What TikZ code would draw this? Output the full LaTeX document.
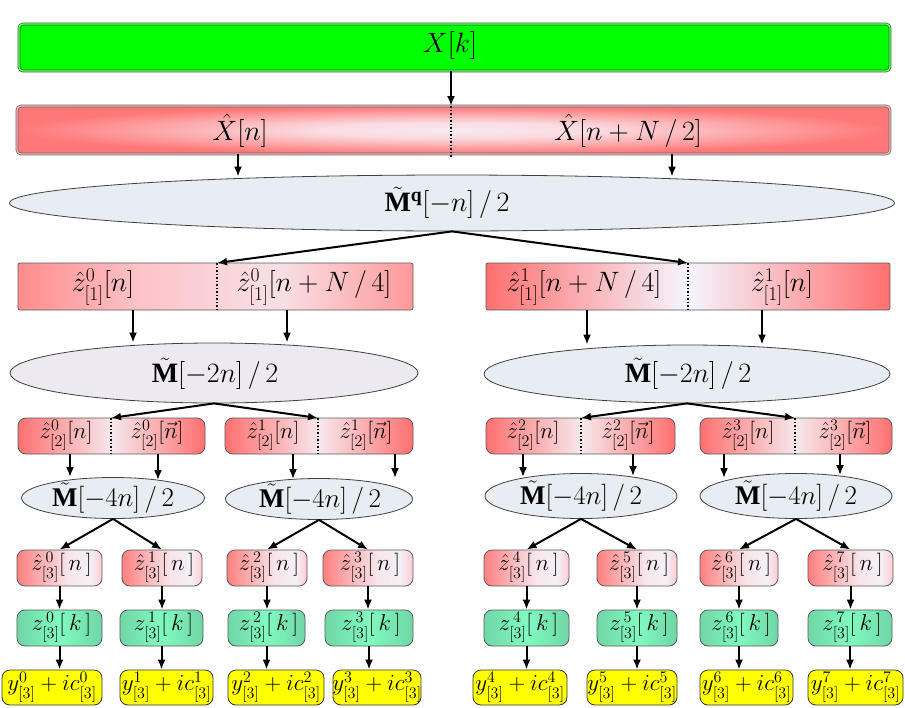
\RequirePackage{fix-cm}
\documentclass[tikz,border=0pt]{standalone}
\usepackage{fontspec}
\setmainfont{Liberation Serif}
\usepackage{amsmath}
\usetikzlibrary{shapes.geometric,arrows.meta,calc}
\definecolor{gbox}{RGB}{0,255,0}
\definecolor{gedge}{RGB}{30,110,30}
\definecolor{redE}{RGB}{255,112,112}
\definecolor{redL}{RGB}{255,150,150}
\definecolor{pinkW}{RGB}{246,232,236}
\definecolor{ellfill}{RGB}{231,237,243}
\definecolor{ellfillP}{RGB}{236,233,240}
\definecolor{mint}{RGB}{128,250,192}
\definecolor{mintE}{RGB}{112,214,166}
\definecolor{yel}{RGB}{255,255,0}
\pgfdeclareradialshading{softred}{\pgfpoint{0bp}{0bp}}{rgb(0bp)=(0.97,0.92,0.94); rgb(8bp)=(0.98,0.86,0.88); rgb(25bp)=(1,0.47,0.47); rgb(50bp)=(1,0.45,0.45)}
\pgfdeclarehorizontalshading{zleft}{100bp}{rgb(0bp)=(1,0.55,0.55); rgb(25bp)=(1,0.55,0.55); rgb(40bp)=(0.99,0.76,0.78); rgb(58bp)=(0.97,0.88,0.9); rgb(75bp)=(1,0.6,0.6); rgb(100bp)=(1,0.6,0.6)}
\pgfdeclarehorizontalshading{lthree}{100bp}{rgb(0bp)=(1,0.5,0.5); rgb(25bp)=(1,0.5,0.5); rgb(55bp)=(0.97,0.9,0.92); rgb(68bp)=(0.96,0.94,0.97); rgb(75bp)=(0.99,0.8,0.82); rgb(100bp)=(0.99,0.8,0.82)}
\begin{document}
\begin{tikzpicture}[x=1pt,y=-1pt,
  arr/.style={-{Latex[length=10pt,width=8pt]}, line width=2pt},
  divline/.style={dotted, line width=1.5pt},
  tbig/.style={font=\fontsize{28}{30}\selectfont, inner sep=0pt},
  tmid/.style={font=\fontsize{27}{29}\selectfont, inner sep=0pt},
  tsmall/.style={font=\fontsize{23}{25}\selectfont, inner sep=0pt},
  tsm/.style={font=\fontsize{23}{25}\selectfont, inner sep=0pt},
  plainbox/.style={rectangle, inner sep=0pt, draw=black!65, line width=0.8pt},
  ellbox/.style={ellipse, inner sep=0pt, draw=black!75, line width=0.8pt, fill=ellfill},
  ltwo/.style={plainbox, rounded corners=8pt, minimum height=36pt, left color=redE, right color=redE, middle color=pinkW},
  lthr/.style={plainbox, rounded corners=8pt, minimum height=36pt, shading=lthree},
  gbx/.style={plainbox, rounded corners=8pt, minimum height=36pt, left color=mintE, right color=mintE, middle color=mint},
  ybx/.style={plainbox, draw=black!80, rounded corners=8pt, minimum height=35pt, fill=yel},
]
\useasboundingbox (0,0) rectangle (905,707);

% ---------- level 0 ----------
\node[rectangle, rounded corners=4pt, minimum width=871pt, minimum height=47pt, inner sep=0pt,
      fill=gbox, draw=gedge, line width=0.7pt, double=gbox!55!white, double distance=1.3pt] (G) at (454.5,47.5) {};
\node[tbig] (g0) at (450,45) {$X[k]$};

% ---------- level 1 ----------
\node[rectangle, rounded corners=4pt, minimum width=873pt, minimum height=48pt, inner sep=0pt,
      shading=softred, draw=black!60, line width=0.7pt, double=redL!70!white, double distance=1.3pt] (XH) at (453.5,130) {};
\coordinate (d0t) at (451,106);
\coordinate (d0b) at (451,157);
\draw[divline] (d0t) -- (d0b);
\node[tbig] (xh1) at (240,131) {$\hat{X}[n]$};
\node[tbig] (xh2) at (628,131) {$\hat{X}[n+N\,/\,2]$};

\node[ellbox, minimum width=885pt, minimum height=56pt] (M1) at (452,203) {};
\node[tbig] (m1t) at (447,203) {$\tilde{\mathbf{M}}^{\mathbf{q}}[-n]\,/\,2$};

% ---------- level z1 ----------
\node[plainbox, rounded corners=2pt, minimum width=395pt, minimum height=47pt, shading=zleft] (Z1L) at (215.5,286.5) {};
\node[plainbox, rounded corners=2pt, minimum width=404pt, minimum height=47pt, left color=redE, right color=redE, middle color=white!96!blue] (Z1R) at (688,286.5) {};
\coordinate (d1t) at (217,263);
\coordinate (d1b) at (217,310);
\coordinate (d2t) at (688,263);
\coordinate (d2b) at (688,310);
\draw[divline] (d1t) -- (d1b);
\draw[divline] (d2t) -- (d2b);
\node[tbig] (z1a) at (103,287) {$\hat{z}^{0}_{[1]}[n]$};
\node[tbig] (z1b) at (314,287) {$\hat{z}^{0}_{[1]}[n+N\,/\,4]$};
\node[tbig] (z1c) at (584,287) {$\hat{z}^{1}_{[1]}[n+N\,/\,4]$};
\node[tbig] (z1d) at (782,287) {$\hat{z}^{1}_{[1]}[n]$};

\node[ellbox, fill=ellfillP, minimum width=408pt, minimum height=60pt] (M2L) at (214,373) {};
\node[ellbox, minimum width=406pt, minimum height=58pt] (M2R) at (687,374) {};
\node[tbig] (m2a) at (215,374) {$\tilde{\mathbf{M}}[-2n]\,/\,2$};
\node[tbig] (m2b) at (688,374) {$\tilde{\mathbf{M}}[-2n]\,/\,2$};

% ---------- level 2 ----------
\node[ltwo, minimum width=187pt] (L2a) at (111.5,436) {};
\node[ltwo, minimum width=188pt] (L2b) at (319,436) {};
\node[ltwo, minimum width=189pt] (L2c) at (580.5,436) {};
\node[ltwo, minimum width=192pt] (L2d) at (796,436) {};
\coordinate (d3t) at (111,418); \coordinate (d3b) at (111,454);
\coordinate (d4t) at (318,418); \coordinate (d4b) at (318,454);
\coordinate (d5t) at (581,418); \coordinate (d5b) at (581,454);
\coordinate (d6t) at (795,418); \coordinate (d6b) at (795,454);
\draw[divline] (d3t) -- (d3b);
\draw[divline] (d4t) -- (d4b);
\draw[divline] (d5t) -- (d5b);
\draw[divline] (d6t) -- (d6b);
\node[tsmall] (l2a1) at (66,435) {$\hat{z}^{0}_{[2]}[n]$};
\node[tsmall] (l2a2) at (157,435) {$\hat{z}^{0}_{[2]}[\vec{n}]$};
\node[tsmall] (l2b1) at (273,435) {$\hat{z}^{1}_{[2]}[n]$};
\node[tsmall] (l2b2) at (366,435) {$\hat{z}^{1}_{[2]}[\vec{n}]$};
\node[tsmall] (l2c1) at (533,435) {$\hat{z}^{2}_{[2]}[n]$};
\node[tsmall] (l2c2) at (628,435) {$\hat{z}^{2}_{[2]}[\vec{n}]$};
\node[tsmall] (l2d1) at (748,435) {$\hat{z}^{3}_{[2]}[n]$};
\node[tsmall] (l2d2) at (845,435) {$\hat{z}^{3}_{[2]}[\vec{n}]$};

\node[ellbox, minimum width=183pt, minimum height=41pt] (M3a) at (113,498) {};
\node[ellbox, minimum width=187pt, minimum height=41pt] (M3b) at (319,499) {};
\node[ellbox, minimum width=192pt, minimum height=45pt] (M3c) at (581,496) {};
\node[ellbox, minimum width=192pt, minimum height=45pt] (M3d) at (796,496) {};
\node[tmid] (m3a) at (113,498) {$\tilde{\mathbf{M}}[-4n]\,/\,2$};
\node[tmid] (m3b) at (320,499) {$\tilde{\mathbf{M}}[-4n]\,/\,2$};
\node[tmid] (m3c) at (581,496) {$\tilde{\mathbf{M}}[-4n]\,/\,2$};
\node[tmid] (m3d) at (796,496) {$\tilde{\mathbf{M}}[-4n]\,/\,2$};

% ---------- level 3 ----------
\foreach \i/\xa/\xb in {0/17/102, 1/122/202, 2/227/307, 3/323/413, 4/484/569, 5/597/677, 6/700/778, 7/808/893}{
  \node[lthr, minimum width={\xb-\xa}] (r\i) at ({(\xa+\xb)/2},568) {};
  \node[tsm] (rt\i) at ({(\xa+\xb)/2+2},567) {$\hat{z}^{\,\i}_{[3]}[\,n\,]$};
}
\foreach \i/\xa/\xb in {0/17/102, 1/120/203, 2/228/305, 3/325/413, 4/484/569, 5/597/677, 6/700/778, 7/808/892}{
  \node[gbx, minimum width={\xb-\xa}] (g\i) at ({(\xa+\xb)/2},628) {};
  \node[tsm] (gt\i) at ({(\xa+\xb)/2+2},627) {$z^{\,\i}_{[3]}[\,k\,]$};
}
\foreach \i/\xa/\xb in {0/2/102, 1/120/213, 2/228/324, 3/333/421, 4/473/567, 5/587/677, 6/700/793, 7/808/903}{
  \node[ybx, minimum width={\xb-\xa}] (y\i) at ({(\xa+\xb)/2},687.5) {};
  \node[tsm] (yt\i) at ({(\xa+\xb)/2},687) {$y^{\i}_{[3]}+ic^{\i}_{[3]}$};
}

% ---------- connectors ----------
\draw[arr] (d0t |- G.south) -- (d0t);
\draw[arr] ([xshift=-2pt]xh1.south |- XH.south) -- ([xshift=-2pt,yshift=-2pt]xh1.south |- M1.north);
\draw[arr] ([xshift=44pt]xh2.south |- XH.south) -- ([xshift=44pt,yshift=-2pt]xh2.south |- M1.north);
\draw[arr] (M1.south) -- (d1t);
\draw[arr] (M1.south) -- (d2t);

\draw[arr] ([xshift=30pt]z1a.south |- Z1L.south) -- ([xshift=30pt]z1a.south |- M2L.north);
\draw[arr] ([xshift=-27pt]z1b.south |- Z1L.south) -- ([xshift=-27pt]z1b.south |- M2L.north);
\draw[arr] ([xshift=3pt]z1c.south |- Z1R.south) -- ([xshift=3pt]z1c.south |- M2R.north);
\draw[arr] ([xshift=-20pt]z1d.south |- Z1R.south) -- ([xshift=-20pt]z1d.south |- M2R.north);

\draw[arr] (M2L.south) -- (d3t);
\draw[arr] (M2L.south) -- (d4t);
\draw[arr] (M2R.south) -- (d5t);
\draw[arr] (M2R.south) -- (d6t);

\draw[arr] ([xshift=4pt]l2a1.south |- L2a.south) -- ([xshift=4pt]l2a1.south |- M3a.north);
\draw[arr] ([xshift=1pt]l2a2.south |- L2a.south) -- ([xshift=1pt,yshift=-3pt]l2a2.south |- M3a.north);
\draw[arr] ([xshift=20pt]l2b1.south |- L2b.south) -- ([xshift=20pt,yshift=-1pt]l2b1.south |- M3b.north);
\draw[arr] ([xshift=29pt]l2b2.south |- L2b.south) -- ([xshift=29pt]l2b2.south |- M3b.north);
\draw[arr] ([xshift=-10pt]l2c1.south |- L2c.south) -- ([xshift=-10pt,yshift=-4pt]l2c1.south |- M3c.north);
\draw[arr] ([xshift=5pt]l2c2.south |- L2c.south) -- ([xshift=5pt,yshift=-3pt]l2c2.south |- M3c.north);
\draw[arr] ([xshift=-24pt]l2d1.south |- L2d.south) -- ([xshift=-24pt,yshift=-5pt]l2d1.south |- M3d.north);
\draw[arr] ([xshift=-5pt]l2d2.south |- L2d.south) -- ([xshift=-5pt,yshift=-2pt]l2d2.south |- M3d.north);

\draw[arr] (M3a.south) -- (r0.north);
\draw[arr] (M3a.south) -- (r1.north);
\draw[arr] (M3b.south) -- (r2.north);
\draw[arr] (M3b.south) -- (r3.north);
\draw[arr] (M3c.south) -- (r4.north);
\draw[arr] (M3c.south) -- (r5.north);
\draw[arr] (M3d.south) -- (r6.north);
\draw[arr] (M3d.south) -- (r7.north);

\foreach \i in {0,...,7}{
  \draw[arr] (r\i.south) -- (r\i.south |- g\i.north);
  \draw[arr] (g\i.south) -- (g\i.south |- y\i.north);
}
\end{tikzpicture}
\end{document}
